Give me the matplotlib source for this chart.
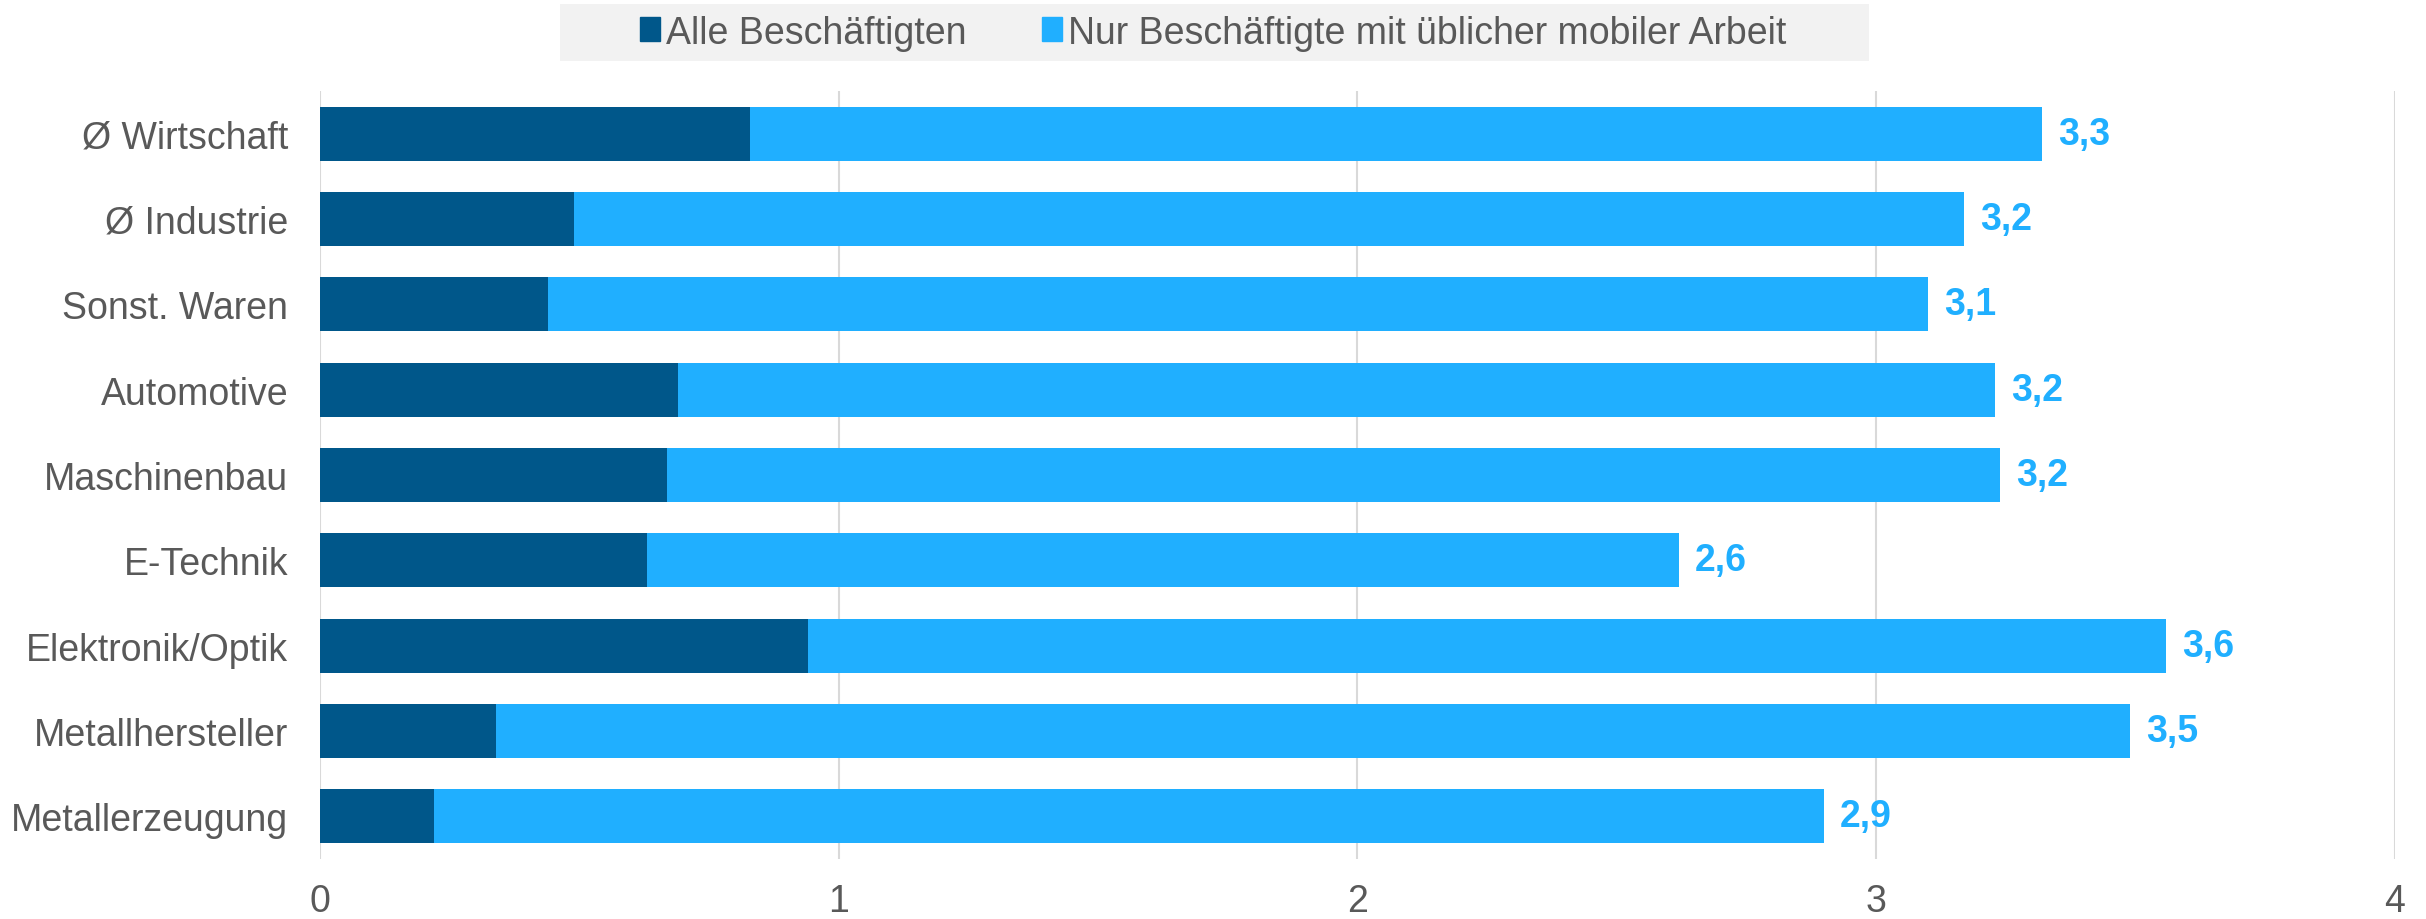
import numpy as np
import matplotlib.pyplot as plt
from matplotlib.patches import Patch, Rectangle

plt.rcParams['font.family'] = ['Liberation Sans', 'DejaVu Sans']

# Daten
categories = ["Ø Wirtschaft", "Ø Industrie", "Sonst. Waren", "Automotive", "Maschinenbau",
              "E-Technik", "Elektronik/Optik", "Metallhersteller", "Metallerzeugung"]
alle = [0.83, 0.49, 0.44, 0.69, 0.67, 0.63, 0.94, 0.34, 0.22]
mobil = [3.32, 3.17, 3.10, 3.23, 3.24, 2.62, 3.56, 3.49, 2.90]
xticks = [0, 1, 2, 3, 4]

dark = "#00578A"
light = "#20AFFF"
grey_text = "#595959"

W, H = 2426, 920
fig = plt.figure(figsize=(W / 100, H / 100), dpi=100)
ax = fig.add_axes([320 / W, 1 - 860 / H, (2394.5 - 320) / W, (860 - 92) / H])

y = np.arange(len(categories))
ax.barh(y, mobil, height=0.63, color=light, zorder=2)
ax.barh(y, alle, height=0.63, color=dark, zorder=3)

for yi, v in zip(y, mobil):
    ax.annotate(f"{v:.1f}".replace(".", ","), (v, yi), xytext=(11.5, 0),
                textcoords="offset points", va="center", ha="left",
                color=light, fontsize=27, fontweight="bold")

ax.set_xlim(0, 4)
ax.set_ylim(len(categories) - 0.5, -0.5)
ax.set_yticks(y)
ax.set_yticklabels(categories)
ax.set_xticks(xticks)
ax.set_xticklabels([str(t) for t in xticks])
ax.tick_params(axis="y", length=0, pad=23, labelsize=27, labelcolor=grey_text)
ax.tick_params(axis="x", length=0, pad=17, labelsize=27, labelcolor=grey_text)
ax.grid(axis="x", color="#D9D9D9", linewidth=1.5, zorder=0)
ax.set_axisbelow(True)
for s in ax.spines.values():
    s.set_visible(False)

# Legende mit grauem Hintergrund
fig.patches.append(Rectangle((560 / W, 1 - 62 / H), (1869 - 560) / W, 57 / H,
                             transform=fig.transFigure, facecolor="#F2F2F2",
                             edgecolor="none", zorder=0))
handles = [Patch(color=dark, label="Alle Beschäftigten"),
           Patch(color=light, label="Nur Beschäftigte mit üblicher mobiler Arbeit")]
leg = fig.legend(handles=handles, loc="center", bbox_to_anchor=(0.5, 1 - 33.5 / H),
                 ncol=2, frameon=False, fontsize=27, handlelength=0.55, handleheight=0.6,
                 handletextpad=0.15, columnspacing=2.0, borderpad=0)
for t in leg.get_texts():
    t.set_color(grey_text)

fig.savefig("out.png", dpi=100)
